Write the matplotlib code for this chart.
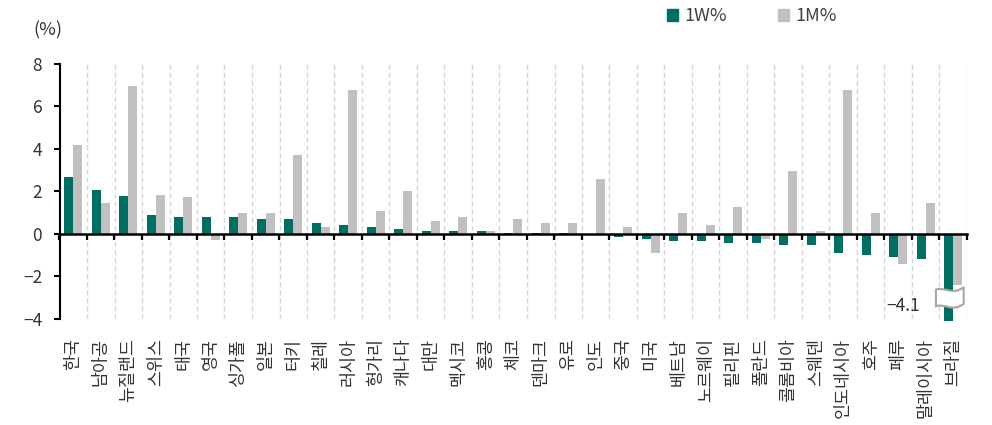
import numpy as np
import matplotlib
matplotlib.use("Agg")
import matplotlib.pyplot as plt
from matplotlib.patches import Patch, PathPatch
from matplotlib.path import Path

plt.rcParams['font.family'] = ['Noto Sans CJK KR', 'DejaVu Sans']
plt.rcParams['axes.unicode_minus'] = True

# Weekly / monthly currency change by country (%)
countries = ["한국", "남아공", "뉴질랜드", "스위스", "태국", "영국", "싱가폴", "일본", "터키", "칠레",
             "러시아", "헝가리", "캐나다", "대만", "멕시코", "홍콩", "체코", "덴마크", "유로", "인도",
             "중국", "미국", "베트남", "노르웨이", "필리핀", "폴란드", "콜롬비아", "스웨덴",
             "인도네시아", "호주", "페루", "말레이시아", "브라질"]
chg_1w = [2.65, 2.08, 1.80, 0.88, 0.78, 0.78, 0.78, 0.70, 0.70, 0.50,
          0.42, 0.33, 0.23, 0.14, 0.14, 0.14, 0.02, 0.02, 0.02, 0.01,
          -0.14, -0.23, -0.33, -0.33, -0.42, -0.42, -0.51, -0.51,
          -0.89, -0.98, -1.07, -1.16, -4.1]
chg_1m = [4.15, 1.44, 6.93, 1.82, 1.72, -0.31, 0.98, 0.98, 3.70, 0.33,
          6.75, 1.07, 2.00, 0.60, 0.79, 0.12, 0.70, 0.51, 0.51, 2.56,
          0.33, -0.89, 0.98, 0.42, 1.26, -0.23, 2.93, 0.14,
          6.75, 0.98, -1.44, 1.44, -2.38]
series_names = ["1W%", "1M%"]
y_ticks = [-4, -2, 0, 2, 4, 6, 8]

GREEN = "#006E62"
GRAY = "#C0C0C0"
TEXT = "#333333"

fig = plt.figure(figsize=(9.92, 4.25), dpi=100)
ax = fig.add_axes([59.5 / 992, 1 - 319 / 425, (967 - 59.5) / 992, (319 - 63.5) / 425])

n = len(countries)
x = np.arange(n)
w = 0.33
bars_w = ax.bar(x - w / 2, chg_1w, w, color=GREEN, zorder=3)
bars_m = ax.bar(x + w / 2, chg_1m, w, color=GRAY, zorder=3)
for b in list(bars_w) + list(bars_m):
    b.set_clip_on(False)

ax.set_xlim(-0.5, n - 0.5)
ax.set_ylim(y_ticks[0], y_ticks[-1])
ax.set_yticks(y_ticks)

for s in ("top", "right", "bottom"):
    ax.spines[s].set_visible(False)
ax.spines["left"].set_linewidth(1.5)
ax.spines["left"].set_color("black")

ax.tick_params(axis="y", length=4.5, width=1.5, direction="out", labelsize=12.5,
               pad=8, labelcolor=TEXT, color="black")

ax.set_xticks(x)
ax.set_xticklabels(countries, rotation=90, fontsize=12.5, color=TEXT)
ax.tick_params(axis="x", which="major", length=0, pad=14)

bounds = np.arange(-0.5, n, 1.0)
ax.set_xticks(bounds, minor=True)
ax.tick_params(axis="x", which="minor", length=0)
ax.grid(axis="x", which="minor", color="#D6D6D6", linestyle=(0, (3.6, 2.2)), linewidth=1.0)
ax.set_axisbelow(True)

# zero line with category separators
sec = ax.secondary_xaxis(0, transform=ax.transData)
sec.set_xticks(bounds)
sec.tick_params(axis="x", length=4, width=1.6, direction="out", labelbottom=False, color="black")
sec.spines["bottom"].set_linewidth(1.8)
sec.spines["bottom"].set_color("black")
sec.set_zorder(5)

# axis-break flag on the last bar with its value
last = n - 1
xl, xr = last - 0.63, last + 0.38
yb = -2.62
h = 0.78
verts = [
    (xl, yb),
    (xl + 0.3, yb + 0.15), (xl + 0.62, yb - 0.3), (xr, yb + 0.12),
    (xr, yb + 0.12 - h),
    (xl + 0.62, yb - 0.3 - h), (xl + 0.3, yb + 0.15 - h), (xl, yb - h),
    (xl, yb),
]
codes = [Path.MOVETO, Path.CURVE4, Path.CURVE4, Path.CURVE4, Path.LINETO,
         Path.CURVE4, Path.CURVE4, Path.CURVE4, Path.CLOSEPOLY]
flag = PathPatch(Path(verts, codes), facecolor="white", edgecolor="#A6A6A6",
                 linewidth=1.5, zorder=6, clip_on=False)
ax.add_patch(flag)
ax.text(last - 1.2, -3.38, f"{chg_1w[last]:.1f}".replace("-", "\u2212"),
        ha="right", va="center", fontsize=12.5, color=TEXT, zorder=7)

fig.text(33 / 992, 1 - 30 / 425, "(%)", ha="left", va="center", fontsize=13, color=TEXT)

handles = [Patch(color=GREEN), Patch(color=GRAY)]
leg = fig.legend(handles, series_names, loc="center", bbox_to_anchor=(0.758, 0.962), ncol=2,
                 frameon=False, handlelength=0.62, handleheight=0.62, handletextpad=0.35,
                 columnspacing=2.8, fontsize=13)
for t in leg.get_texts():
    t.set_color("#404040")

fig.savefig("out.png", dpi=100)
